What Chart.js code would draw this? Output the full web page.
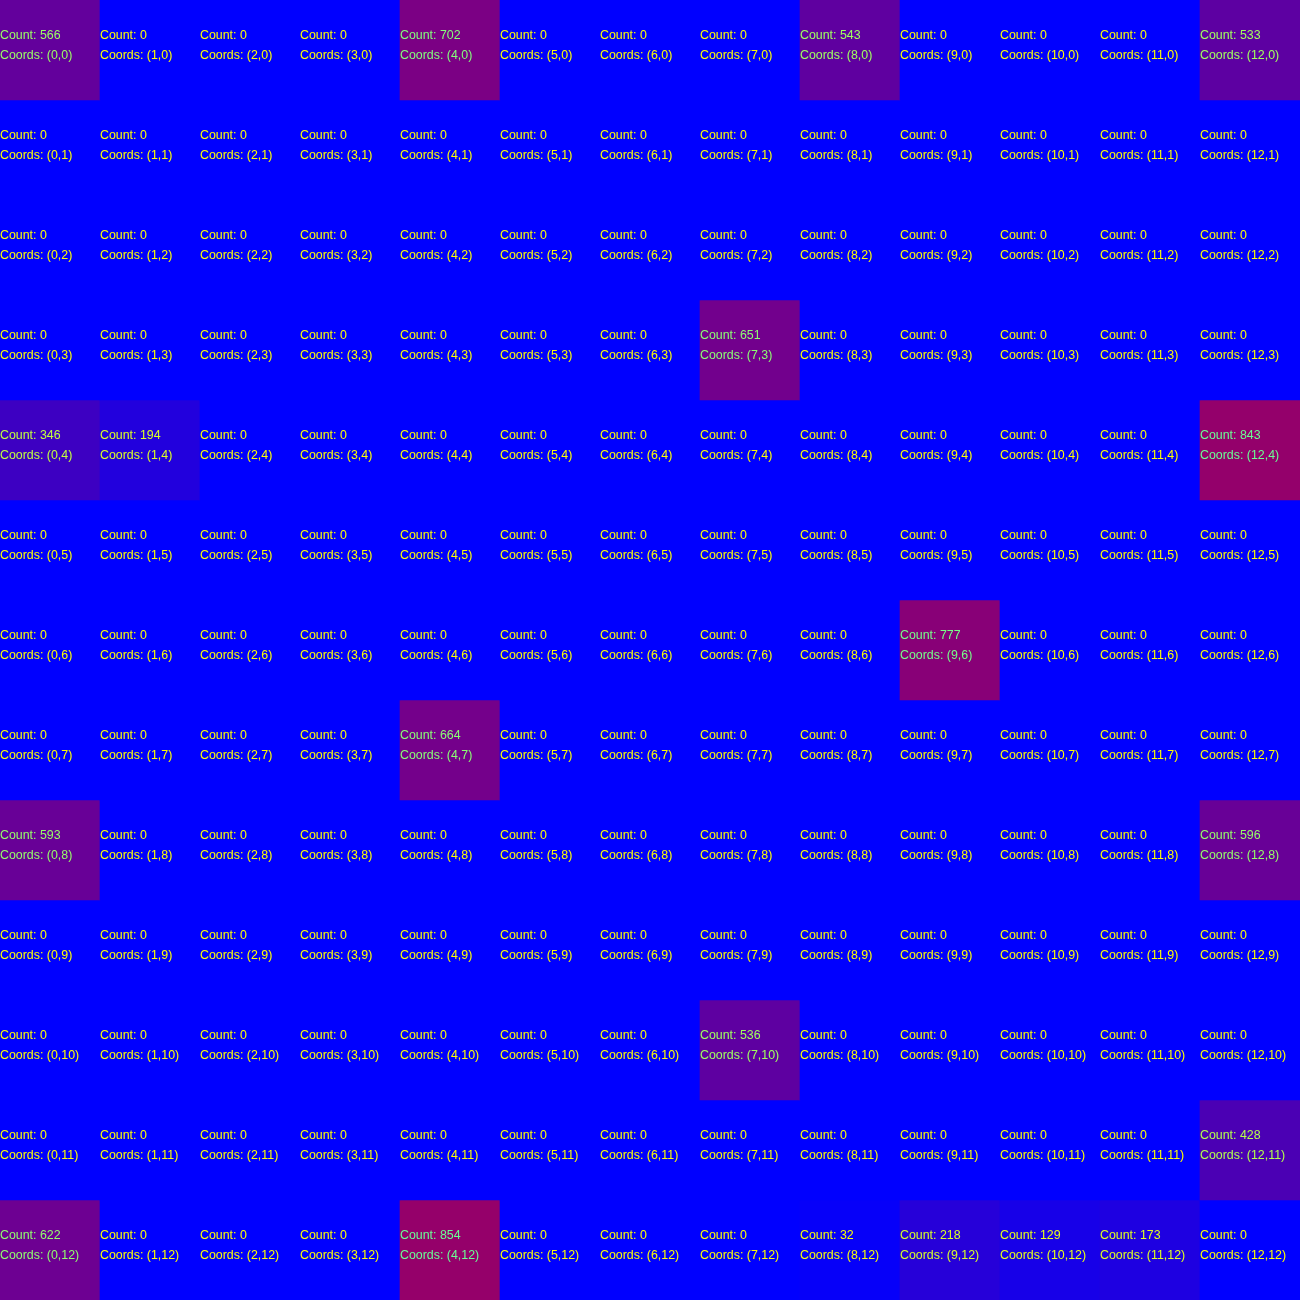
<!DOCTYPE html>
<html lang="en">
<head>
    <meta charset="UTF-8">
    <title>Count Grid</title>
    <script src="https://cdn.jsdelivr.net/npm/chart.js"></script>
    <style>
        html, body { margin: 0; padding: 0; background: #0000ff; overflow: hidden; }
        #wrap { width: 1300px; height: 1300px; }
    </style>
</head>
<body>
    <div id="wrap"><canvas id="grid-chart" width="1300" height="1300"></canvas></div>

    <script>
        // grid columns (x) and rows (y)
        const cols = [0, 1, 2, 3, 4, 5, 6, 7, 8, 9, 10, 11, 12];
        const rows = [0, 1, 2, 3, 4, 5, 6, 7, 8, 9, 10, 11, 12];

        // counts per row, indexed by column
        const row0  = [566, 0, 0, 0, 702, 0, 0, 0, 543, 0, 0, 0, 533];
        const row1  = [0, 0, 0, 0, 0, 0, 0, 0, 0, 0, 0, 0, 0];
        const row2  = [0, 0, 0, 0, 0, 0, 0, 0, 0, 0, 0, 0, 0];
        const row3  = [0, 0, 0, 0, 0, 0, 0, 651, 0, 0, 0, 0, 0];
        const row4  = [346, 194, 0, 0, 0, 0, 0, 0, 0, 0, 0, 0, 843];
        const row5  = [0, 0, 0, 0, 0, 0, 0, 0, 0, 0, 0, 0, 0];
        const row6  = [0, 0, 0, 0, 0, 0, 0, 0, 0, 777, 0, 0, 0];
        const row7  = [0, 0, 0, 0, 664, 0, 0, 0, 0, 0, 0, 0, 0];
        const row8  = [593, 0, 0, 0, 0, 0, 0, 0, 0, 0, 0, 0, 596];
        const row9  = [0, 0, 0, 0, 0, 0, 0, 0, 0, 0, 0, 0, 0];
        const row10 = [0, 0, 0, 0, 0, 0, 0, 536, 0, 0, 0, 0, 0];
        const row11 = [0, 0, 0, 0, 0, 0, 0, 0, 0, 0, 0, 0, 428];
        const row12 = [622, 0, 0, 0, 854, 0, 0, 0, 32, 218, 129, 173, 0];
        const counts = [row0, row1, row2, row3, row4, row5, row6, row7, row8, row9, row10, row11, row12];

        function cellRgb(count) {
            const r = Math.min(255, Math.round(count * 0.175));
            return [r, 0, 255 - r];
        }
        function cellColor(count) {
            const c = cellRgb(count);
            return `rgb(${c[0]}, ${c[1]}, ${c[2]})`;
        }
        // text is drawn in the inverse of the cell colour
        function textColor(count) {
            const c = cellRgb(count);
            return `rgb(${255 - c[0]}, ${255 - c[1]}, ${255 - c[2]})`;
        }

        // each row is a stacked dataset of unit-height bars
        const datasets = rows.map((r) => ({
            label: `Row ${r}`,
            data: cols.map(() => 1),
            backgroundColor: counts[r].map(cellColor),
            borderWidth: 0,
            barPercentage: 1,
            categoryPercentage: 1,
        }));

        const cellLabels = {
            id: 'cellLabels',
            afterDatasetsDraw(chart) {
                const ctx = chart.ctx;
                const xs = chart.scales.x;
                const ys = chart.scales.y;
                ctx.save();
                ctx.font = '12.4px "Liberation Sans", Arial, sans-serif';
                ctx.textAlign = 'left';
                ctx.textBaseline = 'middle';
                rows.forEach((r) => {
                    cols.forEach((c) => {
                        const left = xs.getPixelForValue(c) - xs.getPixelForValue(0) + xs.left;
                        const top = ys.getPixelForValue(r);
                        const n = counts[r][c];
                        ctx.fillStyle = textColor(n);
                        ctx.fillText(`Count: ${n}`, left, top + 35.5);
                        ctx.fillText(`Coords: (${c},${r})`, left, top + 55.5);
                    });
                });
                ctx.restore();
            }
        };

        new Chart(document.getElementById('grid-chart'), {
            type: 'bar',
            data: { labels: cols, datasets },
            options: {
                responsive: false,
                animation: false,
                layout: { padding: 0 },
                plugins: { legend: { display: false }, tooltip: { enabled: false } },
                scales: {
                    x: { display: false, stacked: true, offset: true },
                    y: { display: false, stacked: true, min: 0, max: 13, reverse: true },
                },
            },
            plugins: [cellLabels],
        });
    </script>
</body>
</html>
